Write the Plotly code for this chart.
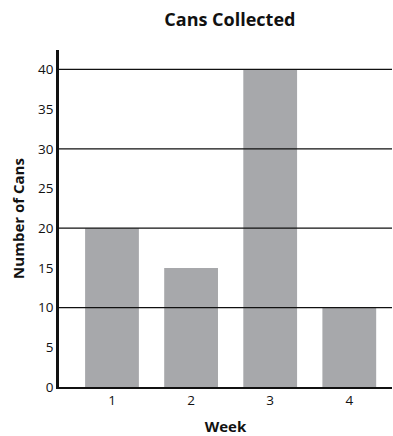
import plotly.graph_objects as go

weeks = ["1", "2", "3", "4"]
cans = [20, 15, 40, 10]
y_ticks = [0, 5, 10, 15, 20, 25, 30, 35, 40]
grid_lines = [10, 20, 30, 40]

FONT = "Open Sans"
INK = "#111111"

fig = go.Figure()
fig.add_trace(go.Bar(x=[1, 2, 3, 4], y=cans, marker=dict(color="#a7a8ab", line=dict(width=0)),
                     width=0.68, hoverinfo="skip"))

shapes = [dict(type="line", xref="paper", yref="y", x0=0, x1=1, y0=g, y1=g,
               line=dict(color=INK, width=1.3), layer="above") for g in grid_lines]

fig.update_layout(
    width=393, height=436,
    margin=dict(l=59, r=1, t=50, b=49),
    paper_bgcolor="white", plot_bgcolor="white",
    showlegend=False,
    title=dict(text="<b>Cans Collected</b>", x=0.585, xanchor="center", y=0.955, yanchor="middle",
               font=dict(family=FONT, size=18, color=INK)),
    xaxis=dict(range=[0.33, 4.54], tickvals=[1, 2, 3, 4], ticktext=weeks, automargin=False,
               showgrid=False, zeroline=False, showline=True, linecolor=INK, linewidth=2,
               ticks="", tickfont=dict(family=FONT, size=13.5, color=INK),
               title=dict(text="<b>Week</b>", font=dict(family=FONT, size=15, color=INK), standoff=14)),
    yaxis=dict(range=[0, 42.45], tickvals=y_ticks, showgrid=False, zeroline=False, automargin=False,
               showline=True, linecolor=INK, linewidth=2.5, ticks="",
               tickfont=dict(family=FONT, size=13.5, color=INK),
               title=dict(text="<b>Number of Cans</b>", font=dict(family=FONT, size=15, color=INK), standoff=10)),
    shapes=shapes,
    bargap=0.32,
)

fig.write_html("out.html", config={"displayModeBar": False},
               post_script="document.body.style.margin='0';")
